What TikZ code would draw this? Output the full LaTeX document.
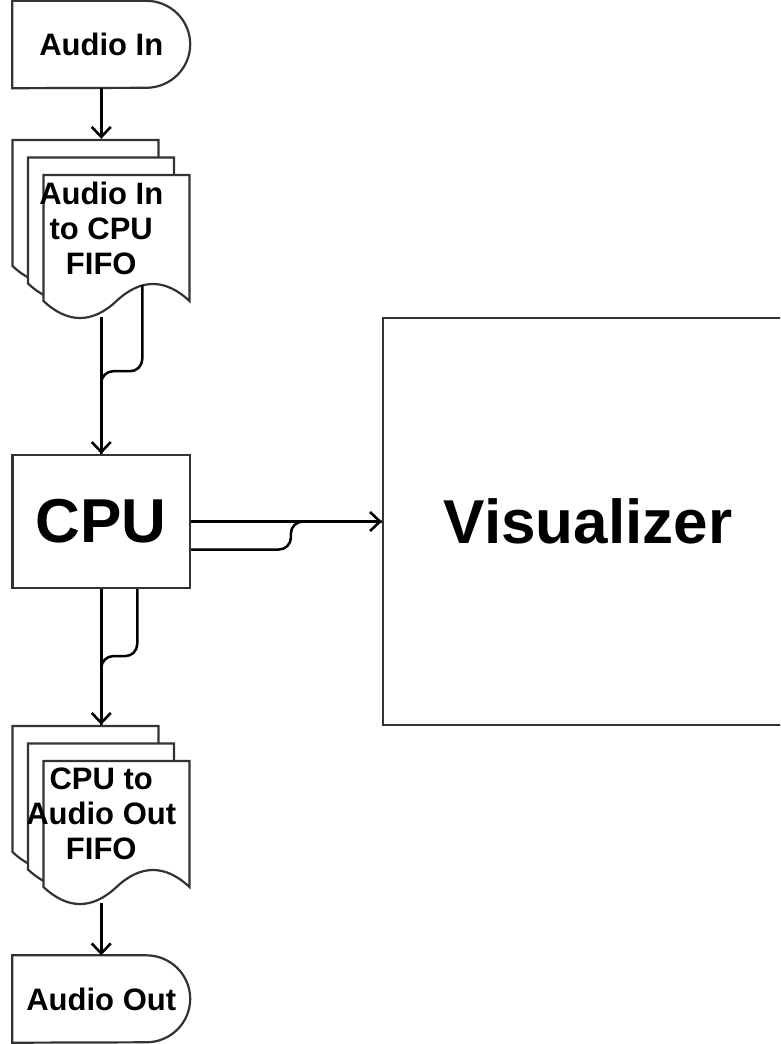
\documentclass[tikz,border=0pt]{standalone}
\usepackage{fontspec}
\setmainfont{Liberation Sans}
\usetikzlibrary{arrows.meta}

% one sheet of a stacked document, top-left corner at (#1,#2)
\newcommand{\fifopage}[2]{%
  \draw[page] (#1,#2) -- (#1+146,#2) -- (#1+146,#2+126)
    .. controls (#1+121.7,#2+103.3) and (#1+97.3,#2+103.3) .. (#1+73,#2+126)
    .. controls (#1+48.7,#2+148.7) and (#1+24.3,#2+148.7) .. (#1,#2+126) -- cycle;}
\newcommand{\fifostack}[2]{%
  \fifopage{#1}{#2}\fifopage{#1+15.5}{#2+17.5}\fifopage{#1+31}{#2+35}}

\begin{document}
\begin{tikzpicture}[
  x=1pt,y=-1pt,
  >={Straight Barb[length=10pt,width=19pt,line width=2.6pt]},
  outline/.style={draw=black!80,line width=2.2pt},
  page/.style={outline,fill=white},
  term/.style={minimum width=177.5pt,minimum height=87pt,inner sep=0pt,
    font=\fontsize{31}{35}\selectfont\bfseries},
  fifo/.style={minimum width=178pt,minimum height=178pt,inner sep=0pt,
    align=center,font=\fontsize{31}{35}\selectfont\bfseries},
  block/.style={outline,inner sep=0pt,font=\fontsize{62}{70}\selectfont\bfseries},
  wire/.style={draw=black,line width=2.5pt,rounded corners=12pt},
  flow/.style={wire,->}
]
  \clip (0,0) rectangle (780,1044);

  \fifostack{12.5}{140}
  \fifostack{12.5}{726}

  \node[term] (ain) at (101.25,44.5) {Audio In};
  \node[fifo] (fifoin) at (101.25,228) {Audio In\\to CPU\\FIFO};
  \node[block,minimum width=177.5pt,minimum height=133pt] (cpu) at (101.25,521.5) {CPU};
  \node[block,minimum width=410pt,minimum height=407pt] (vis) at (588,521.5) {Visualizer};
  \node[fifo] (fifoout) at (101.25,814) {CPU to\\Audio Out\\FIFO};
  \node[term] (aout) at (101.25,999) {Audio Out};

  \draw[outline] (ain.north west) -- ([xshift=-44pt]ain.north east)
    arc[start angle=90,end angle=-90,x radius=44pt,y radius=43.5pt] -- (ain.south west) -- cycle;
  \draw[outline] (aout.north west) -- ([xshift=-44pt]aout.north east)
    arc[start angle=90,end angle=-90,x radius=44pt,y radius=43.5pt] -- (aout.south west) -- cycle;

  \draw[flow] (ain) -- (fifoin);
  \draw[flow] (fifoin) -- (cpu);
  \draw[wire] ([xshift=41pt,yshift=32pt]fifoin.south) |- ([yshift=-54pt]fifoin.south) -- (cpu.north);
  \draw[flow] (cpu) -- (vis);
  \draw[wire] ([yshift=-28pt]cpu.east) -| ([xshift=-91pt]vis.west) -- (vis.west);
  \draw[flow] (cpu) -- (fifoout);
  \draw[wire] ([xshift=36pt]cpu.south) |- ([yshift=-67pt]cpu.south) -- (fifoout.north);
  \draw[flow] (fifoout) -- (aout);
\end{tikzpicture}
\end{document}
